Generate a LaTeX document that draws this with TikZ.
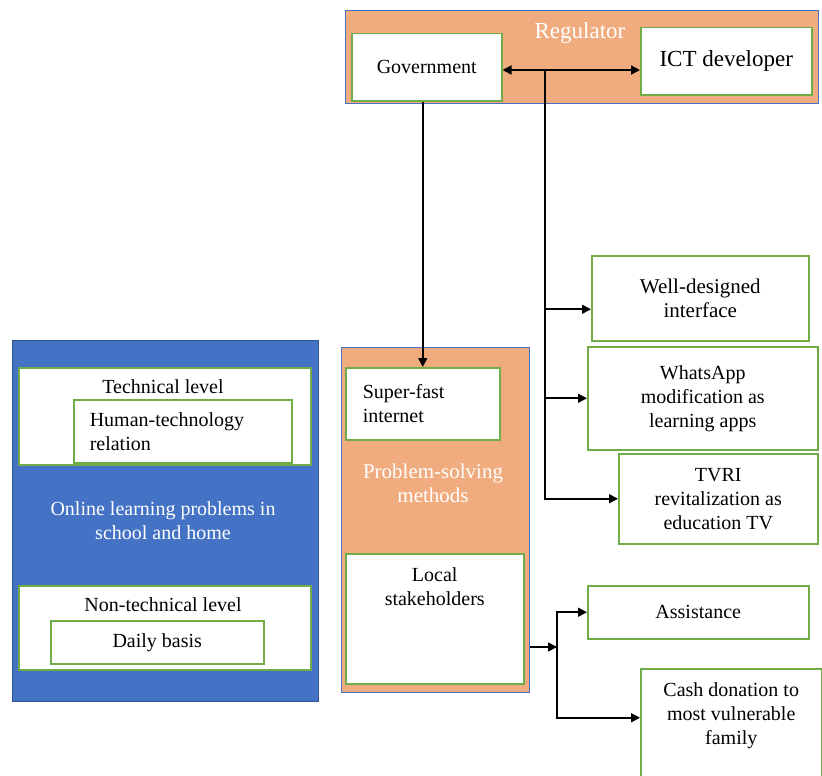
\documentclass[tikz,border=0pt]{standalone}
\usepackage{fontspec}
\setmainfont{Liberation Serif}
\usetikzlibrary{arrows.meta,positioning}
\definecolor{peach}{HTML}{F0AC7F}
\definecolor{ppblue}{HTML}{4472C4}
\definecolor{ppdark}{HTML}{2F5597}
\definecolor{leaf}{HTML}{70AD47}

\begin{document}
\begin{tikzpicture}[x=1pt,y=-1pt,
  panel/.style={draw=ppblue,line width=1pt,fill=peach,anchor=north west,inner sep=0pt},
  gbox/.style={draw=leaf,line width=1.5pt,fill=white,anchor=north west,align=center,inner sep=0pt,font=\fontsize{20}{24}\selectfont},
  txt/.style={align=center,inner sep=0pt,font=\fontsize{20}{24}\selectfont},
  arr/.style={-{Triangle[length=9pt,width=9pt]},line width=1.6pt}]
  \useasboundingbox (0,0) rectangle (822,776);
  % regulator
  \node[panel,minimum width=473pt,minimum height=93pt] (reg) at (345,10) {};
  \node[txt,text=white,font=\fontsize{23}{26}\selectfont] (regtxt) at (580,33) {Regulator};
  \node[gbox,minimum width=150pt,minimum height=67pt] (gov) at (351,33) {Government};
  \node[gbox,minimum width=171pt,minimum height=67pt,font=\fontsize{23}{26}\selectfont] (ict) at (640,27) {ICT developer};
  % problems
  \node[panel,draw=ppdark,fill=ppblue,minimum width=306pt,minimum height=361pt] (olp) at (12,340) {};
  \node[gbox,minimum width=292pt,minimum height=97pt] (tech) at (18,367) {};
  \node[txt] (techtxt) at (163,387) {Technical level};
  \node[gbox,minimum width=218pt,minimum height=63pt,align=left,text width=186pt] (htr) at (73,399) {Human-technology\\relation};
  \node[txt,text=white] (olptxt) at (163,521) {Online learning problems in\\school and home};
  \node[gbox,minimum width=292pt,minimum height=84pt] (ntech) at (18,585) {};
  \node[txt] (ntechtxt) at (163,605) {Non-technical level};
  \node[gbox,minimum width=213pt,minimum height=43pt] (daily) at (50,620) {Daily basis};
  % methods
  \node[panel,minimum width=188pt,minimum height=345pt] (psm) at (341,347) {};
  \node[gbox,minimum width=154pt,minimum height=72pt,align=left,text width=120pt] (sfi) at (345,367) {Super-fast\\internet};
  \node[txt,text=white,font=\fontsize{21}{24}\selectfont] (psmtxt) at (433,483) {Problem-solving\\methods};
  \node[gbox,minimum width=178pt,minimum height=130pt] (ls) at (345,553) {};
  \node[txt,below=14pt of ls.north] (lstxt) {Local\\stakeholders};
  % outcomes
  \node[gbox,minimum width=217pt,minimum height=85pt,font=\fontsize{21}{24}\selectfont] (wdi) at (591,255) {Well-designed\\interface};
  \node[gbox,minimum width=230pt,minimum height=103pt] (wa) at (587,346) {WhatsApp\\modification as\\learning apps};
  \node[gbox,minimum width=199pt,minimum height=90pt] (tvri) at (618,453) {TVRI\\revitalization as\\education TV};
  \node[gbox,minimum width=221pt,minimum height=53pt] (asst) at (587,585) {Assistance};
  \node[gbox,minimum width=181pt,minimum height=112pt] (cash) at (640,668) {};
  \node[txt,below=14pt of cash.north] (cashtxt) {Cash donation to\\most vulnerable\\family};
  \coordinate (hub) at (545,70);
  \coordinate (split) at (557,647);
  \draw[arr] (hub) -- (hub -| gov.east); \draw[arr] (hub) -- (hub -| ict.west);
  \draw[arr] (gov.south -| sfi.north) -- (sfi.north);
  \draw[arr] (hub) |- ([yshift=-11pt]wdi.west); \draw[arr] (hub) |- (wa.west); \draw[arr] (hub) |- (tvri.west);
  \draw[arr] (split -| psm.east) -- (split);
  \draw[arr] (split) |- (asst.west); \draw[arr] (split) |- ([yshift=7pt]cash.west);
\end{tikzpicture}
\end{document}
